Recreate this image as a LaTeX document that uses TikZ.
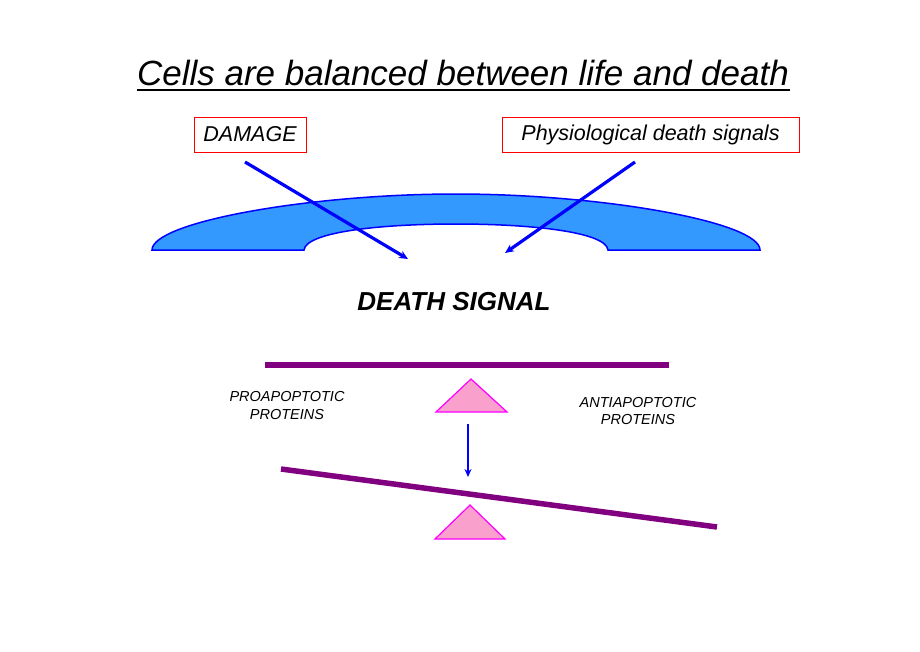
\documentclass[tikz,border=0pt]{standalone}
\usepackage{fontspec}
\setmainfont{Liberation Sans}
\usetikzlibrary{arrows.meta}
\definecolor{arcfill}{RGB}{51,153,255}
\definecolor{beam}{RGB}{128,0,128}
\definecolor{trifill}{RGB}{250,160,205}
\definecolor{trieedge}{RGB}{255,0,255}
\tikzset{
  redbox/.style={draw=red, line width=1pt, inner sep=0pt, font=\fontsize{21.5}{24}\selectfont\itshape},
  bluearrow/.style={draw=blue, line width=3.2pt, -{Stealth[length=9pt,width=8pt]}},
  beamline/.style={draw=beam, line width=5.5pt},
  fulcrum/.style={fill=trifill, draw=trieedge, line width=1.2pt},
  prot/.style={font=\fontsize{14.5}{17.5}\selectfont\itshape, align=center, inner sep=0pt}
}
\begin{document}
\begin{tikzpicture}[x=1pt,y=-1pt]
\useasboundingbox (0,0) rectangle (920,651);
% title
\node (title) at (463,73) {\fontsize{35}{40}\selectfont\itshape Cells are balanced between life and death};
\draw[line width=1.3pt] (137,90) -- (790,90);
% boxes
\node[redbox, minimum width=112pt, minimum height=35pt] (damage) at (250,134.5) {DAMAGE};
\node[redbox, minimum width=297pt, minimum height=35pt] (phys) at (650.5,134.5) {Physiological death signals};
% arc shape
\draw[draw=blue, line width=1.5pt, fill=arcfill]
  (152,250) .. controls (152,222) and (310,194) .. (456,194)
  .. controls (602,194) and (760,222) .. (760,250)
  -- (608,250) .. controls (606,232) and (532,224) .. (456,224)
  .. controls (380,224) and (306,232) .. (304,250) -- cycle;
% arrows
\coordinate (d1) at (245,162);
\coordinate (d2) at (408,259);
\coordinate (p1) at (635,162);
\coordinate (p2) at (505,253);
\draw[bluearrow] (d1) -- (d2);
\draw[bluearrow] (p1) -- (p2);
% death signal
\node (ds) at (454,302) {\fontsize{26}{30}\selectfont\bfseries\itshape DEATH SIGNAL};
% top balance
\coordinate (b1) at (265,365);
\coordinate (b2) at (669,365);
\draw[beamline] (b1) -- (b2);
\draw[fulcrum] (471,379) -- (507,412) -- (436,412) -- cycle;
\node[prot] (pro) at (287,405.5) {PROAPOPTOTIC\\PROTEINS};
\node[prot] (anti) at (638,411) {ANTIAPOPTOTIC\\PROTEINS};
\coordinate (a1) at (468,424);
\coordinate (a2) at (468,477);
\draw[draw=blue, line width=2.6pt, -{Stealth[length=8pt,width=7pt]}] (a1) -- (a2);
% tilted balance
\coordinate (c1) at (281,469);
\coordinate (c2) at (717,527);
\draw[beamline] (c1) -- (c2);
\draw[fulcrum] (470,505) -- (505,539) -- (435,539) -- cycle;
\end{tikzpicture}
\end{document}
